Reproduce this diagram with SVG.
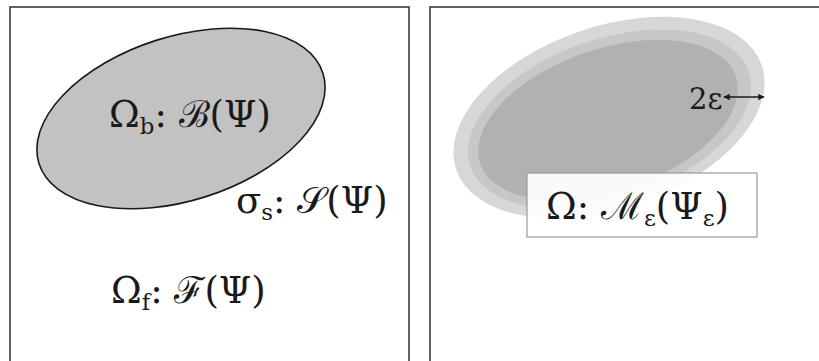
<svg xmlns="http://www.w3.org/2000/svg" width="819" height="361" viewBox="0 0 819 361">
<style>
.panel{fill:#fff;stroke:#3a3a3a;stroke-width:1.6}
.lbl{font-family:"DejaVu Serif","Liberation Serif",serif;fill:#1a1a1a}
.sub{font-size:62%}
</style>
<defs>
<marker id="ah" viewBox="0 0 10 10" refX="9" refY="5" markerWidth="4" markerHeight="4" orient="auto-start-reverse"><path d="M0,0 L10,5 L0,10 z" fill="#1a1a1a"/></marker>
</defs>
<rect width="819" height="361" fill="#fff"/>
<g id="panel-left">
<rect class="panel" x="10" y="7" width="399" height="358"/>
<ellipse cx="181" cy="118.5" rx="149" ry="82" transform="rotate(-17.7 181 118.5)" fill="#c2c2c2" stroke="#1a1a1a" stroke-width="1.6"/>
<text class="lbl" x="109" y="127" font-size="37">Ω<tspan class="sub" dy="7">b</tspan><tspan dy="-7">: ℬ(Ψ)</tspan></text>
<text class="lbl" x="236" y="213" font-size="37">σ<tspan class="sub" dy="7">s</tspan><tspan dy="-7">: 𝒮(Ψ)</tspan></text>
<text class="lbl" x="111" y="303" font-size="37">Ω<tspan class="sub" dy="7">f</tspan><tspan dy="-7">: ℱ(Ψ)</tspan></text>
</g>
<g id="panel-right">
<rect class="panel" x="430" y="7" width="400" height="358"/>
<ellipse cx="609" cy="117.5" rx="161.5" ry="91" transform="rotate(-18.9 609 117.5)" fill="#d7d7d7"/>
<ellipse cx="609.5" cy="119" rx="147" ry="80" transform="rotate(-18.9 609.5 119)" fill="#c7c7c7"/>
<ellipse cx="608" cy="120" rx="135" ry="71" transform="rotate(-18.9 608 120)" fill="#b1b1b1"/>
<text class="lbl" x="689" y="109" font-size="29">2ε</text>
<line x1="724" y1="97" x2="764" y2="97" stroke="#1a1a1a" stroke-width="1.6" marker-start="url(#ah)" marker-end="url(#ah)"/>
<g id="label-box">
<rect x="527" y="173" width="230" height="64" fill="#fff" fill-opacity="0.92" stroke="#999" stroke-width="1.2"/>
<text class="lbl" x="546" y="219" font-size="37">Ω: ℳ<tspan class="sub" dy="7">ε</tspan><tspan dy="-7">(Ψ</tspan><tspan class="sub" dy="7">ε</tspan><tspan dy="-7">)</tspan></text>
</g>
</g>
</svg>
